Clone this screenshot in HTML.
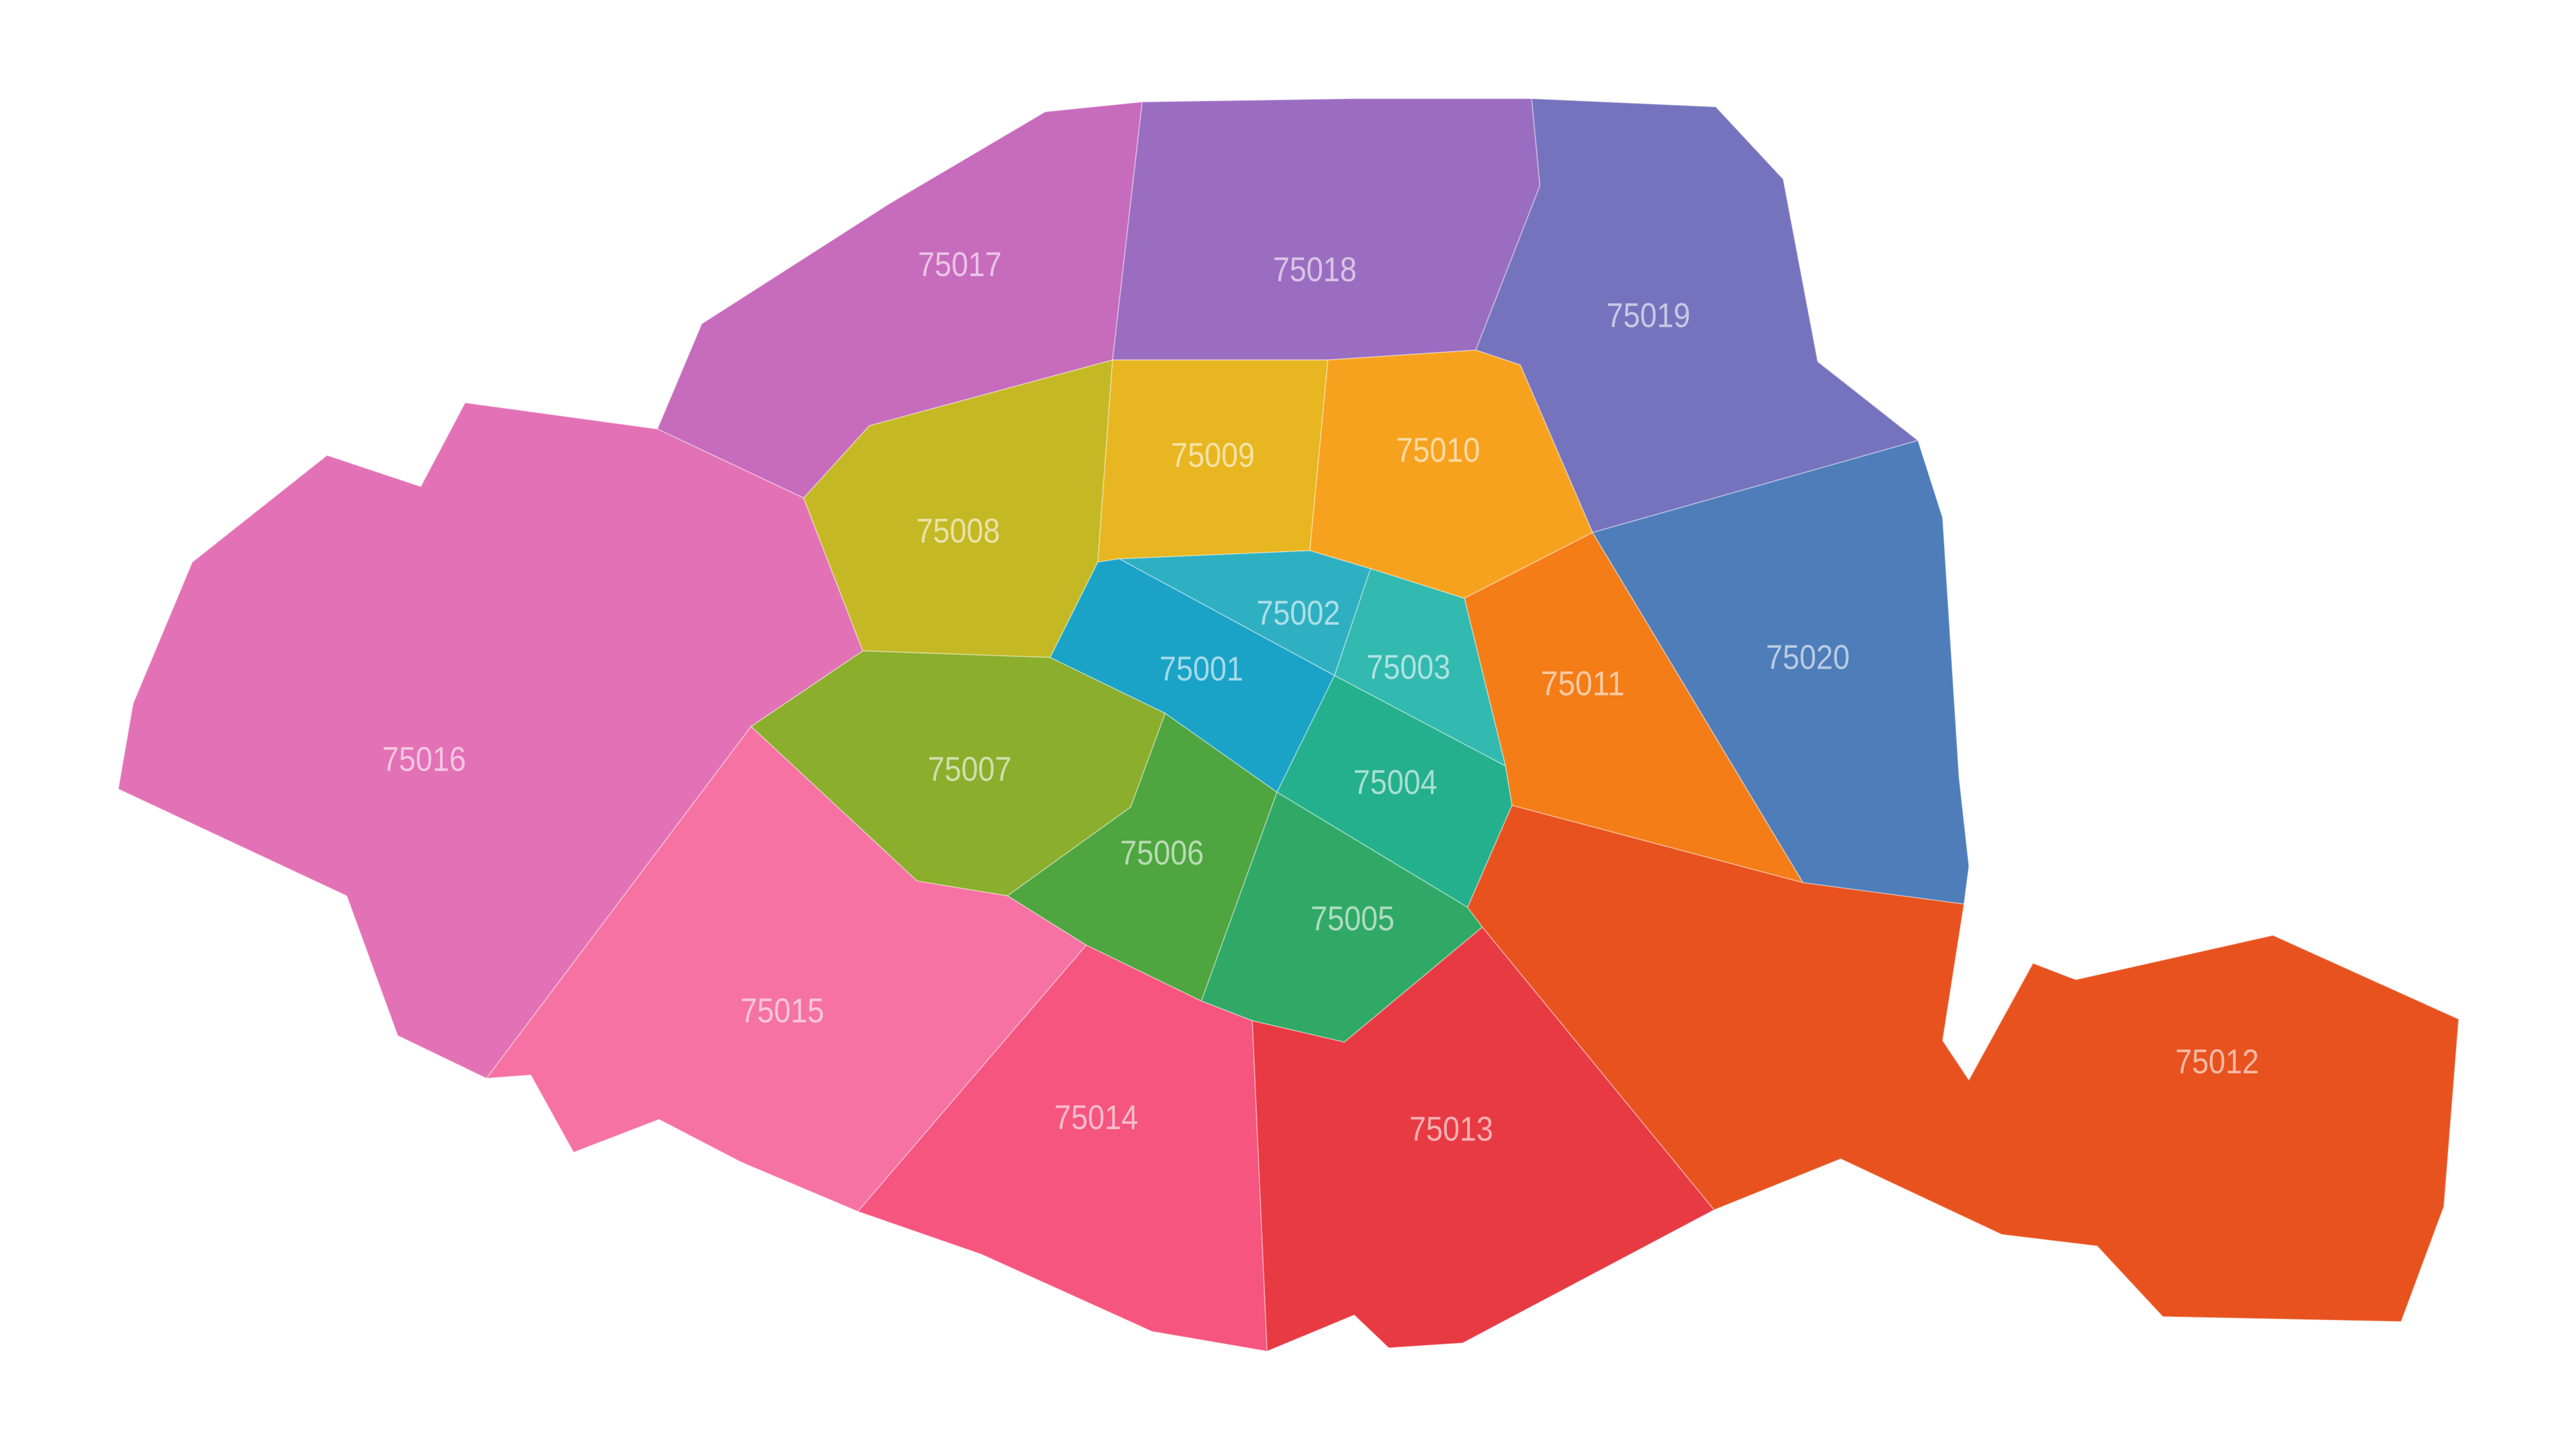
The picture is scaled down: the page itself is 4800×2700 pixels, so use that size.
<!DOCTYPE html>
<html><head><meta charset="utf-8"><style>
html,body{margin:0;padding:0;background:#fff;width:4800px;height:2700px;overflow:hidden}
svg{display:block}
text{font-family:"Liberation Sans",sans-serif;font-size:21px;fill:#fff;fill-opacity:0.6;text-anchor:middle}
polygon{stroke:#fff;stroke-opacity:0.35;stroke-width:0.7}
</style></head><body>
<svg id="map" width="4800" height="2700" viewBox="0 0 1567.4 881.5" preserveAspectRatio="none" xmlns="http://www.w3.org/2000/svg"></svg>
<script>
const codes=["75017","75018","75019","75020","75016","75008","75009","75010","75011","75002","75001","75003","75004","75007","75006","75005","75015","75014","75013","75012"];
const colors=["#c76bbd","#9b6dc1","#7673be","#4e7dba","#e371b5","#c4b924","#e7b620","#f7a21e","#f47d18","#2fb0c2","#1aa3c7","#32b9b0","#24b08d","#8bae2d","#4fa540","#30a967","#f672a3","#f5557f","#e83a43","#e8521f"];
const shapes=[
"695,62 677,219 529,259 489,303 400,261 427,197 541,124 636,68",
"695,62 823,60 932,60 937,113 898,213 808,219 677,219",
"932,60 1044,65 1085,109 1106,220 1167,268 969,324 925,222 898,213 937,113",
"1167,268 1182,315 1192,473 1198,527 1195,550 1097,537 969,324",
"400,261 489,303 525,396 457,442 296,656 242,630 211,545 72,480 81,428 117,342 199,277 256,296 283,245",
"489,303 529,259 677,219 668,342 639,400 525,396",
"677,219 808,219 797,335 681,340 668,342",
"808,219 898,213 925,222 969,324 891,364 834,346 797,335",
"969,324 1097,537 920,490 916,466 891,364",
"681,340 797,335 834,346 812,411",
"668,342 681,340 812,411 777,482 709,434 639,400",
"834,346 891,364 916,466 812,411",
"812,411 916,466 920,490 893,552 777,482",
"525,396 639,400 709,434 688,491 613,545 558,536 457,442",
"709,434 777,482 731,609 661,575 613,545 688,491",
"777,482 893,552 902,564 818,634 762,621 731,609",
"457,442 558,536 613,545 661,575 522,737 451,707 401,681 349,701 323,654 296,656",
"661,575 731,609 762,621 771,822 701,810 597,763 522,737",
"762,621 818,634 902,564 1043,736 890,817 845,820 824,800 771,822",
"893,552 920,490 1097,537 1195,550 1182,633 1198,657 1237,586 1263,596 1383,569 1496,620 1487,734 1461,804 1316,801 1276,758 1218,751 1120,705 1043,736 902,564"];
const labelX=[584,800,1003,1100,258,583,738,875,963,790,731,857,849,590,707,823,476,667,883,1349];
const labelY=[161,164,192,400,462,323,277,274,416,373,407,406,476,468,519,559,615,680,687,646];
const svg=document.getElementById('map');
const NS="http://www.w3.org/2000/svg";
for(let i=0;i<codes.length;i++){
  const p=document.createElementNS(NS,'polygon');
  p.setAttribute('points',shapes[i]);
  p.setAttribute('fill',colors[i]);
  
  
  svg.appendChild(p);
}
for(let i=0;i<codes.length;i++){
  const t=document.createElementNS(NS,'text');
  t.setAttribute('x',labelX[i]);
  t.setAttribute('y',labelY[i]+7);
  t.setAttribute('textLength','51');
  t.setAttribute('lengthAdjust','spacingAndGlyphs');
  t.textContent=codes[i];
  
  
  svg.appendChild(t);
}
</script>
</body></html>
